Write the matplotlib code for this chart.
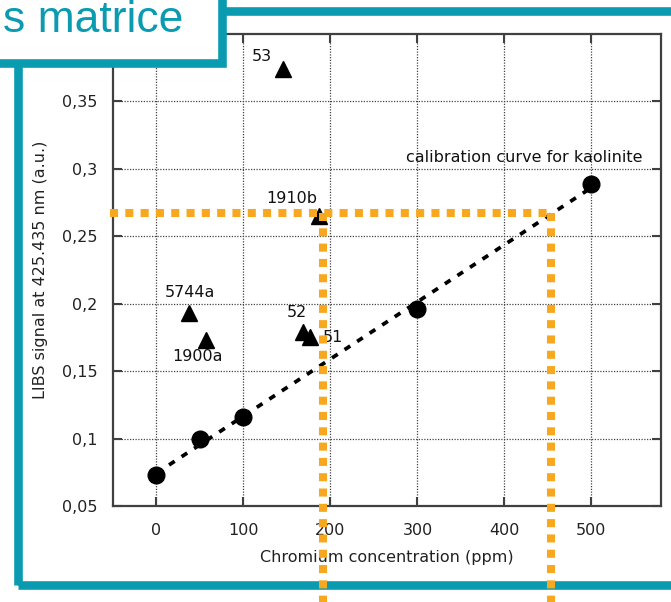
import numpy as np
import matplotlib
matplotlib.use("Agg")
import matplotlib.pyplot as plt
from matplotlib.patches import Rectangle
from matplotlib.ticker import FuncFormatter

# calibration standards (kaolinite)
calib_conc = [0, 50, 100, 300, 500]
calib_signal = [0.073, 0.100, 0.116, 0.196, 0.289]

# other matrices (reference samples)
sample_names = ["53", "5744a", "1900a", "52", "51", "1910b"]
sample_conc = [145, 37, 57, 168, 176, 187]
sample_signal = [0.374, 0.193, 0.173, 0.179, 0.175, 0.265]
label_offsets = [(-15, 9), (1, 15), (-6, -12), (-4, 14), (17, 0), (-20, 13)]

# read-off lines
read_signal = 0.2676
read_conc = [191, 453]

teal = "#0A9BB0"
orange = "#F7A81E"

W, H = 671, 602
fig = plt.figure(figsize=(W / 100, H / 100), dpi=100)
ax = fig.add_axes([113 / W, 1 - 506 / H, (661 - 113) / W, (506 - 34) / H])

def fx(px):
    return px / W

def fy(py):
    return 1 - py / H

# calibration fit
slope, icpt = np.polyfit(calib_conc, calib_signal, 1)
xs = np.array([calib_conc[0], calib_conc[-1]])
ax.plot(xs, slope * xs + icpt, color="black", lw=2.7, linestyle=(0, (1.8, 2.2)), zorder=3)
ax.plot(calib_conc, calib_signal, "o", color="black", ms=12, zorder=4)
ax.plot(sample_conc, sample_signal, "^", color="black", ms=11, zorder=4)

for name, x, y, off in zip(sample_names, sample_conc, sample_signal, label_offsets):
    ax.annotate(name, (x, y), xytext=off, textcoords="offset points",
                ha="center", va="center", fontsize=11.5, color="#111111")
ax.annotate("calibration curve for kaolinite", (calib_conc[-1], calib_signal[-1]),
            xytext=(-48, 19), textcoords="offset points", ha="center", va="center",
            fontsize=11.5, color="#111111")

ax.set_xlim(-50, 580)
ax.set_ylim(0.05, 0.40)
ax.set_xticks([0, 100, 200, 300, 400, 500])
ax.set_yticks([0.05, 0.1, 0.15, 0.2, 0.25, 0.3, 0.35])
ax.yaxis.set_major_formatter(FuncFormatter(lambda v, p: f"{v:g}".replace(".", ",")))
ax.grid(True, color="#444444", lw=0.9, linestyle=(0, (1, 1.2)))
ax.set_axisbelow(True)
for s in ax.spines.values():
    s.set_color("#404040")
    s.set_linewidth(1.6)
ax.tick_params(direction="in", length=6.5, width=1.5, color="#404040",
               top=True, right=True, labelsize=11.5, labelcolor="#222222")
ax.tick_params(axis="x", pad=12)
ax.tick_params(axis="y", pad=11)
ax.set_xlabel("Chromium concentration (ppm)", fontsize=11.5, color="#222222", labelpad=9)
ax.set_ylabel("LIBS signal at 425.435 nm (a.u.)", fontsize=11.5, color="#222222", labelpad=10)

# read-off lines (orange)
ax.plot([-54, read_conc[1]], [read_signal, read_signal], color=orange, lw=5.8,
        linestyle=(0, (1, 0.9)), clip_on=False, zorder=8)
for c in read_conc:
    ax.plot([c, c], [read_signal, -0.04], color=orange, lw=5.8,
            linestyle=(0, (1, 0.9)), clip_on=False, zorder=8)

# slide frame
ax.add_patch(Rectangle((fx(17.5), fy(585)), fx(700) - fx(17.5), fy(10.5) - fy(585),
                       transform=fig.transFigure, fill=False, edgecolor=teal, lw=6.2,
                       clip_on=False, zorder=7))
# title box
ax.add_patch(Rectangle((fx(-30), fy(62.5)), fx(222) - fx(-30), fy(-30) - fy(62.5),
                       transform=fig.transFigure, facecolor="white", edgecolor=teal, lw=6.2,
                       clip_on=False, zorder=10))
ax.text(fx(183), fy(32), "s matrice", transform=fig.transFigure, ha="right", va="baseline",
        fontsize=32, color=teal, family="Liberation Sans", zorder=11, clip_on=False)

fig.savefig("out.png", dpi=100)
